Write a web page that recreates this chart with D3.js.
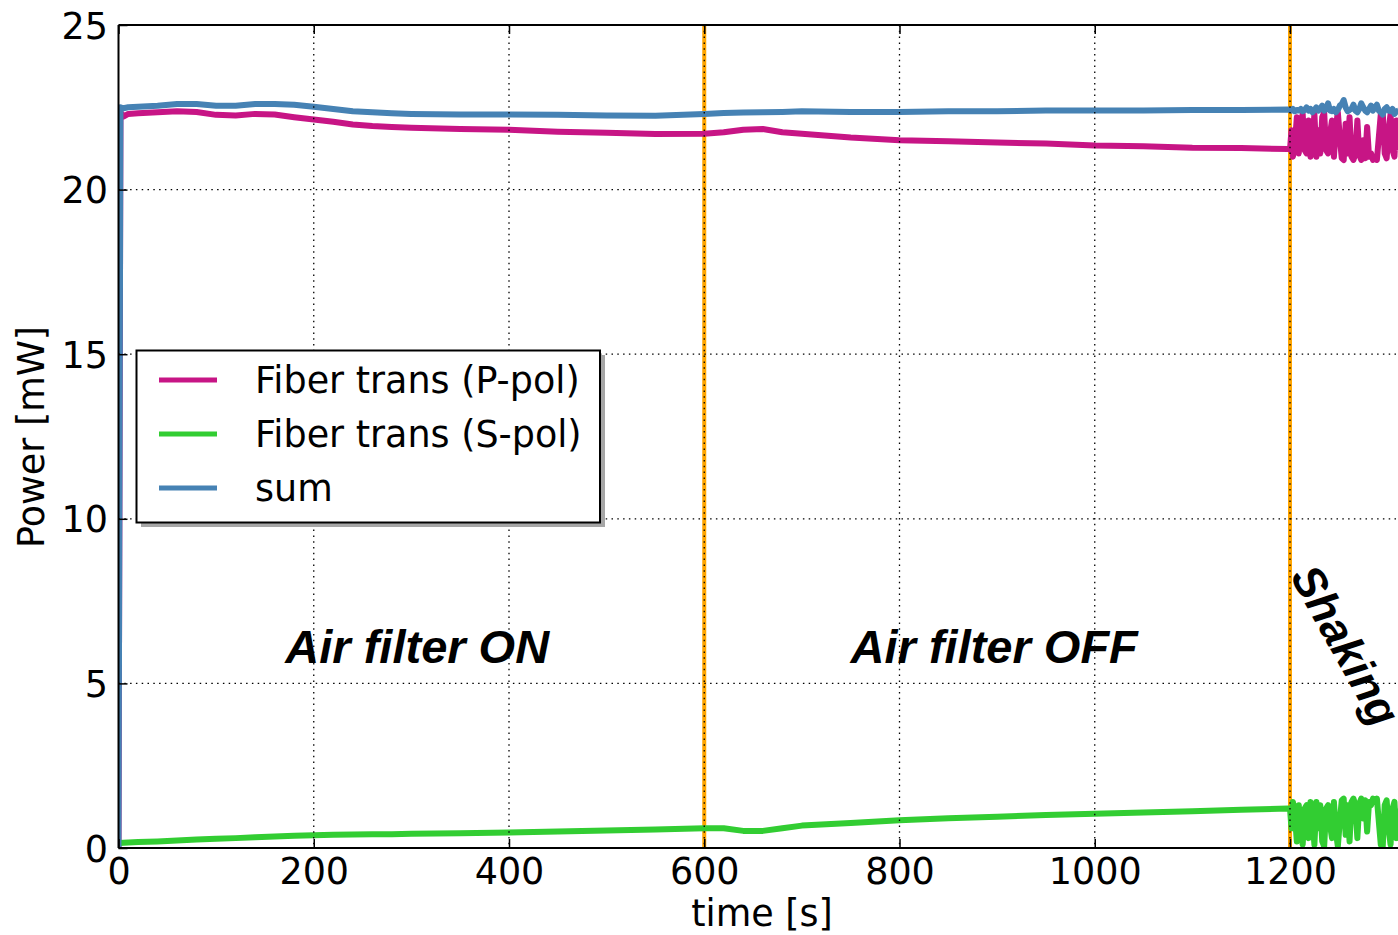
<!DOCTYPE html>
<html>
<head>
<meta charset="utf-8">
<script src="https://cdn.jsdelivr.net/npm/d3@7"></script>
<style>
  body { margin: 0; background: #fff; }
  svg { display: block; font-family: "DejaVu Sans", sans-serif; }
</style>
</head>
<body>
<div id="chart"></div>
<script>
// steady part (before shaking)
const timeSteady = [0, 2, 5, 10, 20, 40, 60, 80, 100, 120, 140, 160, 180, 200, 220, 240, 260, 280, 300, 350, 400, 450, 500, 550, 600, 620, 640, 660, 680, 700, 750, 800, 850, 900, 950, 1000, 1050, 1100, 1150, 1198];
const pPolSteady = [0, 22.35, 22.22, 22.3, 22.32, 22.35, 22.38, 22.36, 22.27, 22.25, 22.3, 22.28, 22.2, 22.13, 22.06, 21.98, 21.93, 21.9, 21.88, 21.84, 21.82, 21.76, 21.73, 21.69, 21.7, 21.74, 21.82, 21.84, 21.74, 21.7, 21.58, 21.5, 21.47, 21.43, 21.4, 21.34, 21.32, 21.27, 21.26, 21.23];
const sPolSteady = [0.15, 0.15, 0.16, 0.17, 0.18, 0.2, 0.23, 0.26, 0.28, 0.3, 0.33, 0.35, 0.37, 0.39, 0.4, 0.41, 0.42, 0.42, 0.43, 0.45, 0.47, 0.5, 0.53, 0.56, 0.6, 0.6, 0.52, 0.52, 0.6, 0.68, 0.76, 0.84, 0.9, 0.95, 1.0, 1.04, 1.08, 1.12, 1.16, 1.2];
const sumSteady = [0, 22.5, 22.47, 22.5, 22.52, 22.55, 22.6, 22.6, 22.55, 22.55, 22.6, 22.6, 22.58, 22.52, 22.45, 22.38, 22.35, 22.32, 22.3, 22.28, 22.28, 22.27, 22.25, 22.24, 22.3, 22.33, 22.34, 22.35, 22.36, 22.38, 22.36, 22.36, 22.38, 22.38, 22.4, 22.4, 22.4, 22.42, 22.42, 22.43];

// shaking part
const timeShake = [1200, 1201.5, 1203, 1205, 1207, 1209, 1211, 1213, 1215, 1217, 1219, 1221, 1223, 1225, 1227, 1229, 1231, 1233, 1235, 1237, 1239, 1241, 1243, 1245, 1247, 1249, 1251, 1253, 1255, 1257, 1259, 1261, 1263, 1265, 1267, 1269, 1271, 1273, 1275, 1277, 1279, 1281, 1283, 1285, 1287, 1289, 1291, 1293, 1295, 1297, 1299, 1301, 1303, 1305, 1307, 1309, 1311];
const pPolShake = [21.22, 21.8, 21.0, 21.4, 22.2, 21.1, 22.0, 22.3, 21.2, 21.1, 22.1, 21.0, 21.5, 22.3, 21.0, 21.8, 21.1, 22.2, 22.35, 21.2, 21.1, 21.7, 22.1, 21.0, 21.9, 22.35, 21.6, 20.95, 20.9, 22.0, 21.1, 22.2, 21.0, 20.9, 21.1, 22.1, 21.05, 20.9, 21.5, 20.95, 21.9, 21.0, 21.1, 20.9, 21.0, 20.9, 21.6, 22.3, 22.35, 21.1, 20.95, 21.8, 22.3, 21.2, 21.0, 22.1, 21.2];
const sPolShake = [1.2, 0.6, 1.4, 1.0, 0.2, 1.3, 0.4, 0.1, 1.2, 1.3, 0.3, 1.4, 0.9, 0.1, 1.4, 0.6, 1.3, 0.2, 0.05, 1.2, 1.3, 0.7, 0.3, 1.4, 0.5, 0.05, 0.8, 1.45, 1.5, 0.4, 1.3, 0.2, 1.4, 1.5, 1.3, 0.3, 1.35, 1.5, 0.9, 1.45, 0.5, 1.4, 1.3, 1.5, 1.4, 1.5, 0.8, 0.1, 0.05, 1.3, 1.45, 0.6, 0.1, 1.2, 1.4, 0.3, 1.2];
const sumShake = [22.42, 22.4, 22.45, 22.38, 22.42, 22.4, 22.45, 22.38, 22.42, 22.5, 22.4, 22.45, 22.35, 22.42, 22.5, 22.4, 22.45, 22.55, 22.4, 22.45, 22.62, 22.4, 22.38, 22.45, 22.35, 22.42, 22.55, 22.6, 22.72, 22.5, 22.38, 22.42, 22.45, 22.58, 22.4, 22.35, 22.45, 22.62, 22.5, 22.4, 22.35, 22.45, 22.55, 22.4, 22.5, 22.58, 22.4, 22.35, 22.28, 22.45, 22.5, 22.4, 22.38, 22.45, 22.3, 22.38, 22.4];

const xTicks = [0, 200, 400, 600, 800, 1000, 1200];
const yTicks = [0, 5, 10, 15, 20, 25];
const eventTimes = [600, 1200];
const seriesNames = ["Fiber trans (P-pol)", "Fiber trans (S-pol)", "sum"];
const seriesColors = ["#C71585", "#32CD32", "#4682B4"];
const notes = [
  { text: "Air filter ON", t: 306, v: 5.6, rot: 0, size: 47 },
  { text: "Air filter OFF", t: 897, v: 5.6, rot: 0, size: 47 },
  { text: "Shaking", t: 1254, v: 6.1, rot: 61, size: 45 }
];

const W = 1398, H = 935;
const plotLeft = 118.5, plotTop = 25, plotBottom = 848;
const fontSize = "36.5px";

const svg = d3.select("#chart").append("svg")
  .attr("width", W)
  .attr("height", H)
  .style("overflow", "hidden");

const x = d3.scaleLinear().domain([0, 1400]).range([plotLeft, plotLeft + 1400 * 0.97625]);
const y = d3.scaleLinear().domain([0, 25]).range([plotBottom, plotTop]);

svg.append("clipPath").attr("id", "plot-clip")
  .append("rect").attr("x", plotLeft).attr("y", plotTop).attr("width", W - plotLeft).attr("height", plotBottom - plotTop);

// event markers
svg.append("g").selectAll("line")
  .data(eventTimes)
  .enter()
  .append("line")
  .attr("x1", d => x(d)).attr("x2", d => x(d))
  .attr("y1", plotTop).attr("y2", plotBottom)
  .attr("stroke", "#FFA500")
  .attr("stroke-width", 4);

// series
const allTime = timeSteady.concat(timeShake);
const series = [
  pPolSteady.concat(pPolShake),
  sPolSteady.concat(sPolShake),
  sumSteady.concat(sumShake)
];
const line = d3.line()
  .x((d, i) => x(allTime[i]))
  .y(d => y(d));

const plot = svg.append("g").attr("clip-path", "url(#plot-clip)");
series.forEach((vals, k) => {
  plot.append("path")
    .datum(vals)
    .attr("d", line)
    .attr("fill", "none")
    .attr("stroke", seriesColors[k])
    .attr("stroke-width", 6)
    .attr("stroke-linejoin", "round");
});

// dotted grid on top
const grid = svg.append("g").attr("stroke", "#000").attr("stroke-width", 1.3).attr("stroke-dasharray", "1.5,4.3");
grid.selectAll(".gx")
  .data(xTicks.filter(d => d > 0))
  .enter().append("line")
  .attr("x1", d => x(d)).attr("x2", d => x(d))
  .attr("y1", plotTop).attr("y2", plotBottom);
grid.selectAll(".gy")
  .data(yTicks.filter(d => d > 0 && d < 25))
  .enter().append("line")
  .attr("x1", plotLeft).attr("x2", W)
  .attr("y1", d => y(d)).attr("y2", d => y(d));

// axes (inward ticks)
const xAxis = svg.append("g")
  .attr("transform", `translate(0,${plotBottom})`)
  .call(d3.axisBottom(x).tickValues(xTicks).tickFormat(d3.format("d")).tickSizeInner(-9).tickSizeOuter(0).tickPadding(10));
const xAxisTop = svg.append("g")
  .attr("transform", `translate(0,${plotTop})`)
  .call(d3.axisTop(x).tickValues(xTicks).tickSizeInner(-9).tickSizeOuter(0).tickFormat(""));
const yAxis = svg.append("g")
  .attr("transform", `translate(${plotLeft},0)`)
  .call(d3.axisLeft(y).tickValues(yTicks).tickFormat(d3.format("d")).tickSizeInner(-9).tickSizeOuter(0).tickPadding(10.5));

[xAxis, xAxisTop, yAxis].forEach(a => {
  a.select(".domain").remove();
  a.selectAll(".tick line").attr("stroke", "#000").attr("stroke-width", 1.5);
  a.selectAll("text")
    .attr("fill", "#000")
    .style("font-family", "'DejaVu Sans', sans-serif")
    .style("font-size", fontSize);
});
yAxis.selectAll("text").attr("dy", "0.36em");

// spines
svg.append("line").attr("x1", plotLeft).attr("x2", W).attr("y1", plotTop).attr("y2", plotTop)
  .attr("stroke", "#000").attr("stroke-width", 2);
svg.append("line").attr("x1", plotLeft).attr("x2", W).attr("y1", plotBottom).attr("y2", plotBottom)
  .attr("stroke", "#000").attr("stroke-width", 2);
svg.append("line").attr("x1", plotLeft).attr("x2", plotLeft).attr("y1", plotTop).attr("y2", plotBottom)
  .attr("stroke", "#000").attr("stroke-width", 2);

// axis labels
svg.append("text")
  .attr("x", 762).attr("y", 926)
  .attr("text-anchor", "middle")
  .style("font-size", fontSize)
  .text("time [s]");
svg.append("text")
  .attr("transform", "translate(44,437) rotate(-90)")
  .attr("text-anchor", "middle")
  .style("font-size", fontSize)
  .text("Power [mW]");

// annotations
svg.append("g").selectAll("text")
  .data(notes)
  .enter().append("text")
  .attr("transform", d => d.rot
    ? `translate(${x(d.t) + 3},${y(d.v) - 2}) rotate(${d.rot})`
    : `translate(${x(d.t)},${663})`)
  .attr("text-anchor", "middle")
  .attr("dominant-baseline", d => d.rot ? "central" : "auto")
  .style("font-family", "'Liberation Sans', Arial, sans-serif")
  .style("font-weight", "bold")
  .style("font-style", "italic")
  .style("font-size", d => d.size + "px")
  .text(d => d.text);

// legend
const lg = svg.append("g");
lg.append("rect")
  .attr("x", 141).attr("y", 355).attr("width", 464).attr("height", 172)
  .attr("fill", "#a6a6a6");
lg.append("rect")
  .attr("x", 136.5).attr("y", 350.5).attr("width", 463.5).attr("height", 172)
  .attr("fill", "#fff").attr("stroke", "#000").attr("stroke-width", 2);
const rowY = [380, 434, 488];
seriesNames.forEach((name, k) => {
  lg.append("line")
    .attr("x1", 159).attr("x2", 217)
    .attr("y1", rowY[k]).attr("y2", rowY[k])
    .attr("stroke", seriesColors[k]).attr("stroke-width", 5);
  lg.append("text")
    .attr("x", 255).attr("y", rowY[k] + 13)
    .style("font-size", fontSize)
    .text(name);
});
</script>
</body>
</html>
